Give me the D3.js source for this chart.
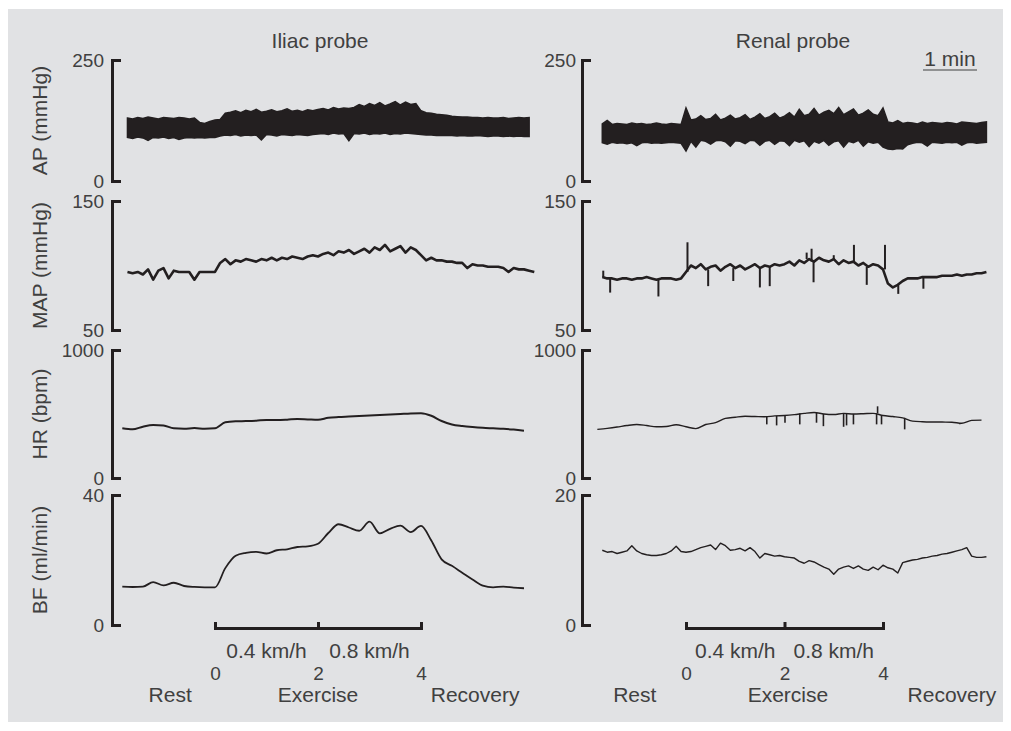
<!DOCTYPE html>
<html><head><meta charset="utf-8">
<script src="https://cdn.jsdelivr.net/npm/d3@7"></script>
<style>
body{margin:0;background:#fff}
svg text{font-family:"Liberation Sans",Arial,sans-serif}
</style>
</head><body>
<svg id="chart" width="1011" height="731"></svg>
<script>
// ---------------- DATA ----------------
const probeTitles = ["Iliac probe", "Renal probe"];
const rowTitles = ["AP (mmHg)", "MAP (mmHg)", "HR (bpm)", "BF (ml/min)"];
const apDomain = [0, 250];
const mapDomain = [50, 150];
const hrDomain = [0, 1000];
const iliacBFDomain = [0, 40];
const renalBFDomain = [0, 20];
const timeTicks = [0, 2, 4];
const speedLabels = ["0.4 km/h", "0.8 km/h"];
const speedTimes = [1, 3];
const phaseLabels = ["Rest", "Exercise", "Recovery"];
const scaleBarLabel = "1 min";

// sampling grids (minutes from exercise onset)
const fineStart = -1.7, fineStep = 0.1;
const coarseStart = -1.8, coarseStep = 0.2;

const iliacAPHigh = [130,128,131,129,132,130,128,131,130,129,131,130,128,130,
121,119,123,
126,127,
140,142,145,141,146,143,148,142,144,147,143,145,149,144,146,143,147,145,
148,150,147,152,149,151,150,
152,158,154,160,156,162,155,159,164,157,163,158,160,
145,141,140,138,137,136,
134,133,132,132,131,131,130,131,130,130,131,129,130,131,130,131];
const iliacAPLow = [90,88,91,89,84,90,89,91,88,90,86,89,90,89,
90,89,90,
90,93,
95,94,96,93,95,94,95,85,96,95,93,96,95,94,96,95,94,96,
97,98,96,99,97,98,83,
98,97,99,96,98,97,99,96,98,97,99,98,97,
96,95,95,94,94,94,
94,93,94,93,93,94,93,92,93,93,92,93,92,93,92,92];
const iliacMAP = [95,94,95,93,97,89,96,98,90,96,95,95,95,89,95,95,
95,95,
102,105,101,104,103,105,104,103,105,104,106,104,106,105,107,106,105,107,108,
107,109,110,108,111,110,112,109,
111,113,110,114,112,116,111,113,115,110,114,112,
108,104,106,104,104,103,103,
102,102,98,101,100,100,99,99,99,98,95,98,97,97,96,95];
const iliacHR = [388,380,401,414,410,388,385,390,385,388,
435,443,445,448,453,453,456,461,458,455,
470,476,480,484,488,492,496,500,504,506,
486,445,418,406,398,392,388,384,378,370];
const iliacBF = [11.8,11.7,11.8,13.2,12.2,13.0,12.0,11.7,11.6,11.6,
17.5,21.3,22.2,22.5,22.0,23.0,23.3,24.0,24.2,25.0,
28.3,31.0,30.0,29.0,31.8,28.2,29.6,30.6,28.6,30.5,
26.0,20.2,18.2,16.1,14.0,12.1,11.6,11.8,11.5,11.3];

const renalAPHigh = [118,125,117,119,118,117,120,118,119,117,118,120,118,117,119,118,117,
151,
126,128,135,127,129,138,126,130,136,128,131,137,127,132,139,129,133,140,130,
134,141,132,148,135,138,150,136,142,146,139,152,137,143,149,136,140,147,138,135,
151,
122,120,125,119,121,120,118,122,119,121,120,119,121,120,118,122,121,120,119,121,122];
const renalAPLow = [79,76,80,78,79,77,79,73,79,80,78,79,78,79,80,79,78,
62,
82,70,84,82,76,83,84,81,72,83,82,77,84,83,74,82,84,76,83,
82,73,84,80,83,71,82,78,84,74,81,83,70,82,79,84,72,81,78,80,
70,
66,65,67,66,75,78,80,79,72,80,79,78,80,79,80,74,79,80,78,79,80];
const renalMAP = [91,90,90,89,90,90,89,90,90,91,90,89,90,90,90,89,90,
95,
100,98,101,97,99,100,96,99,101,98,100,97,99,101,98,100,99,101,100,
101,103,100,104,102,105,103,106,104,
103,105,101,104,102,103,100,102,99,101,100,
97,
86,83,85,88,
90,90,90,91,91,91,91,92,92,92,93,92,93,93,94,94,95];
const renalMAPSpikes = [[-1.68,96],[-1.54,79],[-0.56,76],[0.03,118],[0.45,84],[0.96,88],
[1.5,83],[1.7,84],[2.45,110],[2.55,113],[2.59,87],[3.0,108],[3.41,116],[3.67,85],
[4.04,116],[4.31,78],[4.82,82]];
const renalHR = [380,388,398,410,418,410,400,402,416,400,
386,418,432,466,475,482,480,478,485,488,
495,505,512,500,496,505,500,502,505,488,
480,470,444,440,438,437,436,428,450,452];
const renalHRSpikes = [[1.64,419],[1.84,411],[2.01,432],[2.31,419],[2.65,432],[2.79,405],
[3.2,400],[3.26,411],[3.4,419],[3.87,419],[3.89,560],[3.97,419],[4.44,380],[5.56,419]];
const renalBF = [11.5,11.2,11.3,11.0,11.2,11.4,12.2,11.4,11.0,10.8,10.7,10.7,10.8,11.0,11.4,12.1,11.3,
11.2,11.3,11.6,11.9,12.1,12.3,11.6,12.6,12.2,11.5,11.6,11.8,11.4,11.9,11.3,10.3,11.0,10.8,10.6,10.7,
10.5,10.4,10.3,9.8,9.5,9.9,9.7,9.3,8.9,8.6,7.8,8.6,8.9,9.1,8.7,9.1,8.6,8.4,8.9,8.5,
9.2,8.8,8.6,8.0,9.6,9.8,10.0,10.1,10.3,10.4,10.6,10.7,10.9,11.0,11.2,11.4,11.6,11.9,10.6,10.4,10.4,10.5];

// ---------------- LAYOUT ----------------
const ink = "#231f20", txt = "#404040", FS = 21, TFS = 19;
const svg = d3.select("#chart");
svg.append("rect").attr("x", 8).attr("y", 9).attr("width", 995).attr("height", 713).attr("fill", "#e1e2e4");

const rows = [
  {top: 60, bottom: 181, title: rowTitles[0]},
  {top: 201, bottom: 330, title: rowTitles[1]},
  {top: 350, bottom: 478, title: rowTitles[2]},
  {top: 495, bottom: 625, title: rowTitles[3]}
];
const cols = [
  {axisX: 112, x0: 215, x4: 421, titleX: 320, labelPad: 8, phaseT: [-0.87, 2.0, 5.05],
   ap: [iliacAPHigh, iliacAPLow], map: iliacMAP, hr: iliacHR, bf: iliacBF, bfDom: iliacBFDomain,
   mapSpikes: [], hrSpikes: [], bfFine: false, showTitles: true},
  {axisX: 582, x0: 686, x4: 883, titleX: 793, labelPad: 6, phaseT: [-1.04, 2.07, 5.4],
   ap: [renalAPHigh, renalAPLow], map: renalMAP, hr: renalHR, bf: renalBF, bfDom: renalBFDomain,
   mapSpikes: renalMAPSpikes, hrSpikes: renalHRSpikes, bfFine: true, showTitles: false}
];

function styleAxis(g) {
  g.select(".domain").attr("stroke", ink).attr("stroke-width", 3).attr("stroke-linecap", "square");
  g.selectAll(".tick line").attr("stroke", ink).attr("stroke-width", 3);
  g.selectAll(".tick text").attr("fill", txt).attr("font-size", TFS)
    .attr("font-family", '"Liberation Sans",Arial,sans-serif');
}

const fineT = i => fineStart + i * fineStep;
const coarseT = i => coarseStart + i * coarseStep;

cols.forEach((c, ci) => {
  const x = d3.scaleLinear().domain([0, 4]).range([c.x0, c.x4]);
  const doms = [apDomain, mapDomain, hrDomain, c.bfDom];
  const ys = rows.map((r, ri) => d3.scaleLinear().domain(doms[ri]).range([r.bottom, r.top]));

  svg.append("text").attr("x", c.titleX).attr("y", 48).attr("text-anchor", "middle")
    .attr("font-size", FS).attr("fill", txt).text(probeTitles[ci]);

  rows.forEach((r, ri) => {
    const g = svg.append("g").attr("transform", `translate(${c.axisX},0)`)
      .call(d3.axisLeft(ys[ri]).tickValues(doms[ri]).tickSizeInner(-9).tickSizeOuter(0)
        .tickPadding(c.labelPad).tickFormat(d3.format("d")));
    styleAxis(g);
    if (c.showTitles) {
      svg.append("text").attr("transform", `translate(47,${(r.top + r.bottom) / 2}) rotate(-90)`)
        .attr("text-anchor", "middle").attr("font-size", FS).attr("fill", txt).text(r.title);
    }
  });

  // AP band (pulsatile envelope)
  const [hi, lo] = c.ap;
  svg.append("path").datum(hi.map((v, i) => [fineT(i), v, lo[i]]))
    .attr("d", d3.area().x(d => x(d[0])).y0(d => ys[0](d[2])).y1(d => ys[0](d[1])))
    .attr("fill", ink).attr("stroke", ink).attr("stroke-width", 1.5).attr("stroke-linejoin", "miter");

  // MAP
  const mapPts = c.map.map((v, i) => [fineT(i), v]);
  svg.append("path").datum(mapPts)
    .attr("d", d3.line().x(d => x(d[0])).y(d => ys[1](d[1])))
    .attr("fill", "none").attr("stroke", ink).attr("stroke-width", 2.6).attr("stroke-linejoin", "round");
  c.mapSpikes.forEach(s => {
    const base = c.map[Math.round((s[0] - fineStart) / fineStep)];
    svg.append("line").attr("x1", x(s[0])).attr("x2", x(s[0]))
      .attr("y1", ys[1](base)).attr("y2", ys[1](s[1])).attr("stroke", ink).attr("stroke-width", 2);
  });

  // HR
  svg.append("path").datum(c.hr.map((v, i) => [coarseT(i), v]))
    .attr("d", d3.line().curve(d3.curveMonotoneX).x(d => x(d[0])).y(d => ys[2](d[1])))
    .attr("fill", "none").attr("stroke", ink).attr("stroke-width", ci === 0 ? 2 : 1.4).attr("stroke-linejoin", "round");
  c.hrSpikes.forEach(s => {
    const base = c.hr[Math.round((s[0] - coarseStart) / coarseStep)];
    svg.append("line").attr("x1", x(s[0])).attr("x2", x(s[0]))
      .attr("y1", ys[2](base)).attr("y2", ys[2](s[1])).attr("stroke", ink).attr("stroke-width", 1.6);
  });

  // BF
  const bfT = c.bfFine ? fineT : coarseT;
  svg.append("path").datum(c.bf.map((v, i) => [bfT(i), v]))
    .attr("d", d3.line().curve(c.bfFine ? d3.curveLinear : d3.curveMonotoneX).x(d => x(d[0])).y(d => ys[3](d[1])))
    .attr("fill", "none").attr("stroke", ink).attr("stroke-width", ci === 0 ? 1.8 : 1.4).attr("stroke-linejoin", "round");

  // time axis
  const tg = svg.append("g").attr("transform", `translate(0,628)`)
    .call(d3.axisBottom(x).tickValues(timeTicks).tickSizeInner(-6).tickSizeOuter(0).tickPadding(39).tickFormat(d3.format("d")));
  styleAxis(tg);

  speedLabels.forEach((s, i) => {
    svg.append("text").attr("x", x(speedTimes[i])).attr("y", 658).attr("text-anchor", "middle")
      .attr("font-size", FS).attr("fill", txt).text(s);
  });
  phaseLabels.forEach((s, i) => {
    svg.append("text").attr("x", x(c.phaseT[i])).attr("y", 702).attr("text-anchor", "middle")
      .attr("font-size", FS).attr("fill", txt).text(s);
  });
});

// 1 min scale bar
svg.append("text").attr("x", 950).attr("y", 66).attr("text-anchor", "middle")
  .attr("font-size", FS).attr("fill", txt).text(scaleBarLabel);
svg.append("line").attr("x1", 923).attr("x2", 977).attr("y1", 70).attr("y2", 70)
  .attr("stroke", txt).attr("stroke-width", 1.2);
</script>
</body></html>
